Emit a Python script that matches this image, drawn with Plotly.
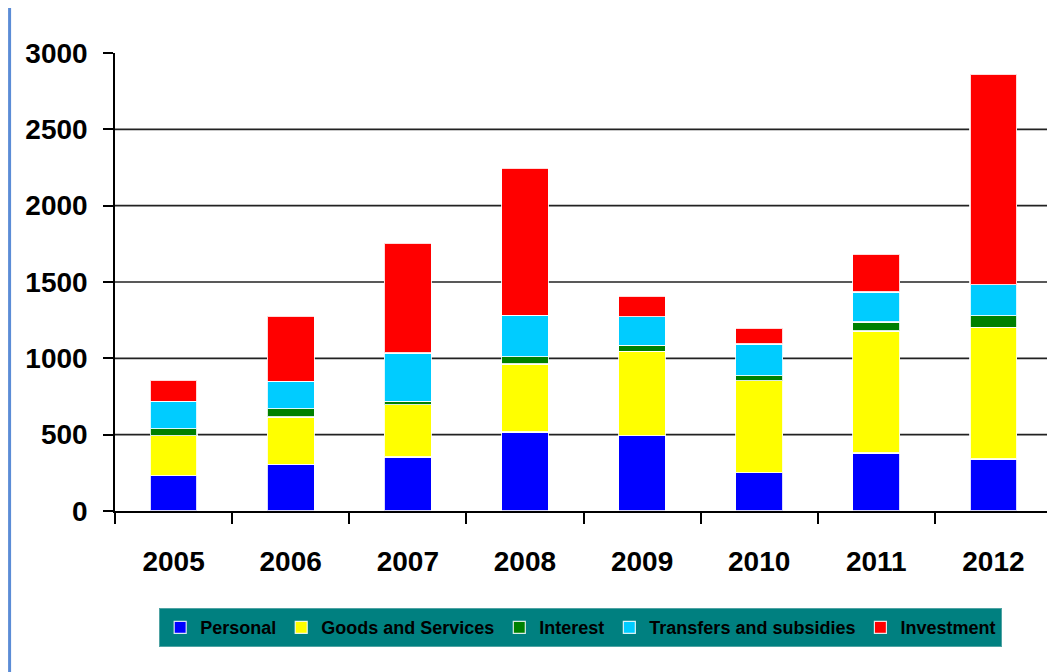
import plotly.graph_objects as go

years = ["2005", "2006", "2007", "2008", "2009", "2010", "2011", "2012"]
personal = [231, 306, 354, 517, 493, 251, 380, 341]
goods_services = [262, 310, 342, 446, 553, 602, 799, 862]
interest = [46, 54, 22, 48, 39, 33, 59, 76]
transfers = [179, 180, 317, 271, 188, 208, 196, 203]
investment = [138, 427, 720, 963, 135, 105, 249, 1378]

series_names = ["Personal", "Goods and Services", "Interest", "Transfers and subsidies", "Investment"]
series_values = [personal, goods_services, interest, transfers, investment]
series_colors = ["#0000FF", "#FFFF00", "#008000", "#00CCFF", "#FF0000"]

y_ticks = [0, 500, 1000, 1500, 2000, 2500, 3000]
grid_vals = [500, 1000, 1500, 2000, 2500]

fig = go.Figure()
for name, vals, col in zip(series_names, series_values, series_colors):
    fig.add_trace(go.Bar(
        x=years, y=vals, name=name,
        marker=dict(color=col, line=dict(color="rgba(255,255,255,0.85)", width=1.2)),
    ))

shapes = []
for g in grid_vals:
    shapes.append(dict(type="line", xref="x domain", yref="y", x0=0, x1=1, y0=g, y1=g,
                       line=dict(color="#222222", width=1.6), layer="below"))
# left blue frame line
shapes.append(dict(type="line", xref="paper", yref="paper", x0=-0.1125, x1=-0.1125, y0=-0.5, y1=1.3,
                   line=dict(color="#5B8CD6", width=3)))

fig.update_layout(
    width=1047, height=664,
    margin=dict(l=107, r=3, t=45, b=161),
    paper_bgcolor="white", plot_bgcolor="white",
    barmode="stack", bargap=0.6,
    shapes=shapes,
    showlegend=True,
    legend=dict(
        orientation="h", x=0.497, xanchor="center", y=-0.212, yanchor="top",
        bgcolor="#008080", bordercolor="#4FA3A3", borderwidth=1,
        font=dict(family="Liberation Sans, Arial, sans-serif", size=18, color="black", weight="bold"),
        traceorder="normal",
    ),
    font=dict(family="Liberation Sans, Arial, sans-serif", color="black"),
)

fig.update_xaxes(
    type="category", showgrid=False, showline=True, linecolor="black", linewidth=1.5,
    ticks="outside", tickson="boundaries", ticklen=11, tickcolor="black", tickwidth=1.5,
    tickfont=dict(size=28, weight="bold", color="black"), ticklabelstandoff=25,
)
fig.update_yaxes(
    range=[0, 3000], tickvals=y_ticks, showgrid=False, zeroline=False,
    showline=True, linecolor="black", linewidth=1.5,
    ticks="outside", ticklen=10, tickcolor="black", tickwidth=1.5,
    tickfont=dict(size=28, weight="bold", color="black"), ticklabelstandoff=10,
)

fig.write_html("out.html")
